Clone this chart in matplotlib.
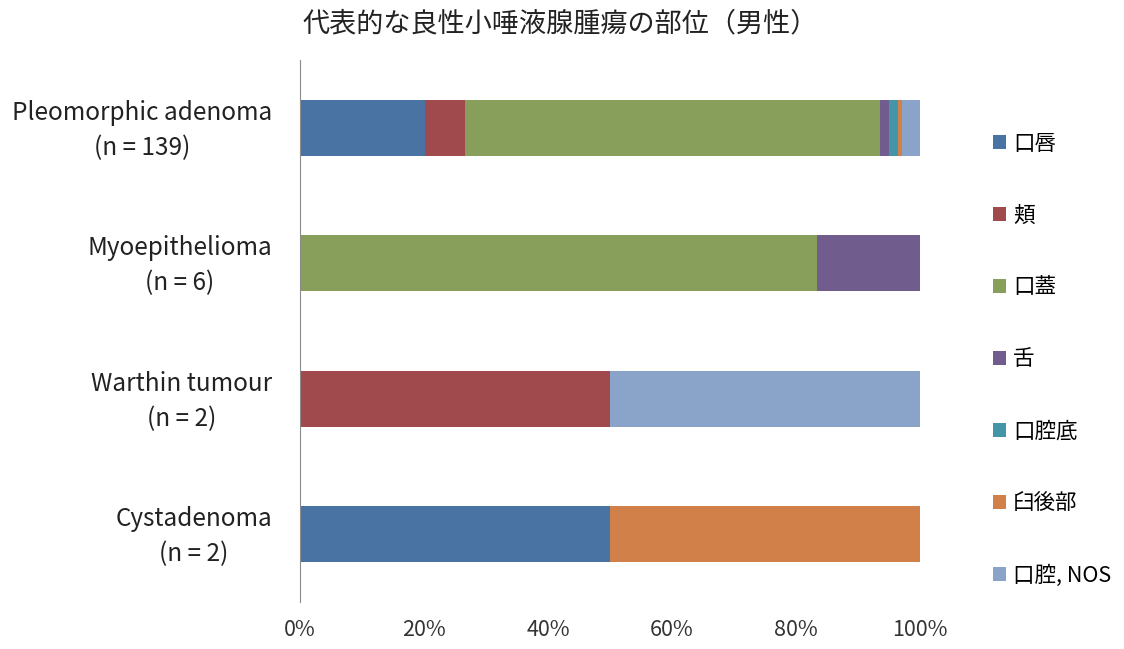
import numpy as np
import matplotlib
matplotlib.use("Agg")
import matplotlib.pyplot as plt
import matplotlib.transforms as mtransforms

plt.rcParams['font.family'] = ['Noto Sans CJK JP', 'DejaVu Sans']

# tumour types (top to bottom) and counts per site
tumours = ["Pleomorphic adenoma\n(n = 139)", "Myoepithelioma\n(n = 6)",
           "Warthin tumour\n(n = 2)", "Cystadenoma\n(n = 2)"]
sites = ["口唇", "頬", "口蓋", "舌", "口腔底", "臼後部", "口腔, NOS"]
lip = [28, 0, 0, 1]
cheek = [9, 0, 1, 0]
palate = [93, 5, 0, 0]
tongue = [2, 1, 0, 0]
floor = [2, 0, 0, 0]
retromolar = [1, 0, 0, 1]
oral_nos = [4, 0, 1, 0]
colors = ["#4873A2", "#A04A4D", "#879F5A", "#705C8D", "#4595A8", "#D2804A", "#8AA3C8"]

counts = np.array([lip, cheek, palate, tongue, floor, retromolar, oral_nos], dtype=float)
shares = counts / counts.sum(axis=0) * 100

fig = plt.figure(figsize=(11.24, 6.49), dpi=100)
ax = fig.add_axes([300 / 1124, 1 - 602 / 649, 620 / 1124, 542 / 649])

y = np.arange(len(tumours))
left = np.zeros(len(tumours))
for i in range(len(sites)):
    ax.barh(y, shares[i], left=left, height=0.41, color=colors[i], label=sites[i])
    left += shares[i]

ax.set_xlim(0, 100)
ax.set_ylim(len(tumours) - 0.5, -0.5)
ax.set_xticks(np.arange(0, 101, 20))
ax.set_xticklabels(["%d%%" % v for v in range(0, 101, 20)], fontsize=15.5, color="#333333")
ax.set_yticks(y)
ax.set_yticklabels(tumours, fontsize=17.5, color="#222222", ha="right", multialignment="center",
                   linespacing=1.45)
ax.tick_params(axis="y", length=0, pad=20)
ax.tick_params(axis="x", length=0, pad=12)
shift = mtransforms.ScaledTranslation(0, 5 / 100, fig.dpi_scale_trans)
for lbl in ax.get_yticklabels():
    lbl.set_transform(lbl.get_transform() + shift)
for s in ["top", "right", "bottom"]:
    ax.spines[s].set_visible(False)
ax.spines["left"].set_color("#8c8c8c")

fig.text(560 / 1124, 1 - 24 / 649, "代表的な良性小唾液腺腫瘍の部位（男性）", fontsize=19.5, ha="center", va="center",
         color="#222222")

ax.legend(loc="upper left", bbox_to_anchor=(984 / 1124, 1 - 124 / 649), bbox_transform=fig.transFigure,
          frameon=False, fontsize=15.5, handlelength=0.6, handleheight=0.6, handletextpad=0.35,
          labelspacing=2.32, borderaxespad=0)

fig.savefig("out.png", dpi=100)
